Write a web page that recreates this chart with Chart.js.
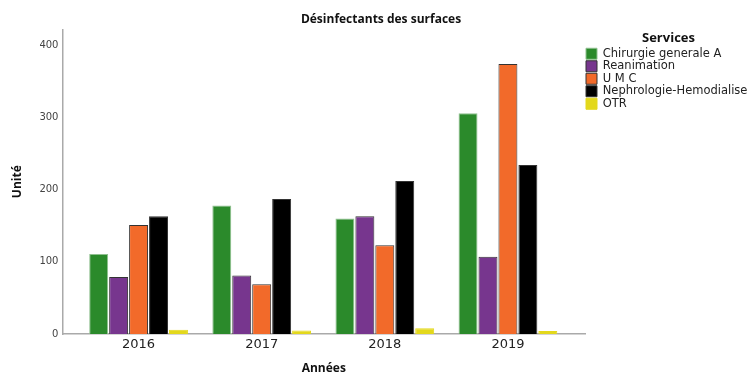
<!DOCTYPE html>
<html>
<head>
<meta charset="utf-8">
<script src="https://cdn.jsdelivr.net/npm/chart.js@4/dist/chart.umd.min.js"></script>
<style>
  html, body { margin: 0; padding: 0; background: #fff; }
  #wrap { width: 752px; height: 372px; }
</style>
</head>
<body>
<div id="wrap"><canvas id="myChart" width="752" height="372"></canvas></div>
<script>
var years = ['2016', '2017', '2018', '2019'];
var services = ['Chirurgie generale A', 'Reanimation', 'U M C', 'Nephrologie-Hemodialise', 'OTR'];
var chirurgie = [111, 178, 160, 306];
var reanimation = [79, 81, 163, 107];
var umc = [151, 69, 123, 374];
var nephrologie = [163, 187, 212, 234];
var otr = [6, 5, 8, 4];
var yTicks = [0, 100, 200, 300, 400];

var fills = ['#2b8a2b', '#77368e', '#f26a2a', '#000000', '#e3d81c'];
var edges = ['#8fc08f', '#333333', '#333333', '#333333', '#e3d81c'];

function pts(vals) {
  return vals.map(function (v, i) { return { x: i, y: v }; });
}

var series = [chirurgie, reanimation, umc, nephrologie, otr];

var ctx = document.getElementById('myChart').getContext('2d');
var myChart = new Chart(ctx, {
  type: 'bar',
  data: {
    datasets: series.map(function (vals, k) {
      return {
        label: services[k],
        data: pts(vals),
        backgroundColor: fills[k],
        borderColor: edges[k],
        borderWidth: 1,
        categoryPercentage: 0.81,
        barPercentage: 0.95
      };
    })
  },
  options: {
    responsive: false,
    animation: false,
    layout: { padding: { left: 10, right: 0, top: 4, bottom: 0 } },
    plugins: {
      title: {
        display: true,
        text: 'Désinfectants des surfaces',
        color: '#111',
        font: { family: 'Open Sans', size: 12, weight: 'bold' },
        padding: { top: 8, bottom: 3 }
      },
      legend: {
        position: 'right',
        align: 'start',
        fullSize: false,
        maxWidth: 167,
        title: {
          display: true,
          text: 'Services',
          color: '#111',
          font: { family: 'Open Sans', size: 13, weight: 'bold' },
          padding: { top: 2, bottom: 0 }
        },
        labels: {
          boxWidth: 11,
          boxHeight: 11,
          padding: 1,
          color: '#222',
          font: { family: 'DejaVu Sans', size: 11.5, lineHeight: 1.0 }
        }
      },
      tooltip: { enabled: false }
    },
    scales: {
      x: {
        type: 'linear',
        offset: false,
        min: -0.618,
        max: 3.626,
        grid: { display: false, drawTicks: false, tickLength: 0 },
        border: { display: true, color: '#aaaaaa', width: 1.5 },
        ticks: {
          stepSize: 1,
          includeBounds: false,
          color: '#222',
          font: { family: 'DejaVu Sans', size: 13 },
          padding: 3,
          callback: function (v) { return years[v] !== undefined ? years[v] : ''; }
        },
        title: {
          display: true,
          text: 'Années',
          color: '#111',
          font: { family: 'Open Sans', size: 12, weight: 'bold' },
          padding: { top: 6, bottom: -4 }
        }
      },
      y: {
        min: 0,
        max: 422,
        grid: { display: false, drawTicks: false, tickLength: 0 },
        border: { display: true, color: '#aaaaaa', width: 1.5 },
        afterBuildTicks: function (axis) {
          axis.ticks = yTicks.map(function (v) { return { value: v }; });
        },
        ticks: {
          color: '#444',
          font: { family: 'DejaVu Sans', size: 10 },
          padding: 4
        },
        title: {
          display: true,
          text: 'Unité',
          color: '#111',
          font: { family: 'Open Sans', size: 12, weight: 'bold' },
          padding: { top: 0, bottom: 11 }
        }
      }
    }
  }
});
</script>
</body>
</html>
